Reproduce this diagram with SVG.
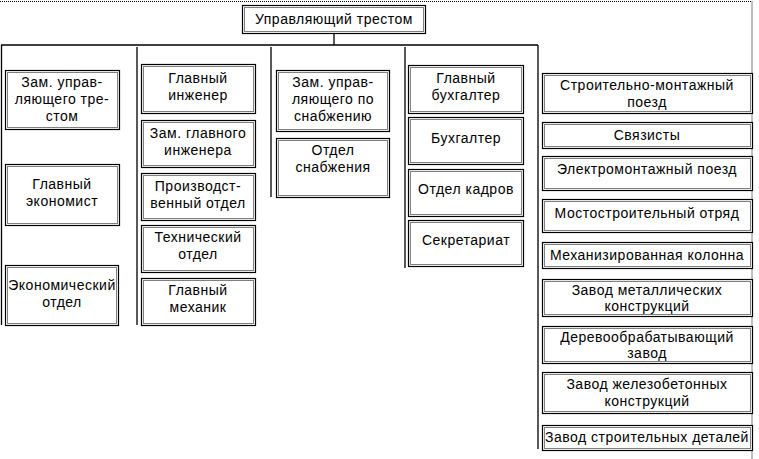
<svg xmlns="http://www.w3.org/2000/svg" width="759" height="459" viewBox="0 0 759 459">
<style>
.o{fill:#fff;stroke:#000;stroke-width:1.2}
.i{fill:none;stroke:#000;stroke-width:1;stroke-dasharray:1 1}
.l{stroke:#000;stroke-width:1.3;fill:none}
text{font-family:"Liberation Sans",Arial,sans-serif;font-size:14px;letter-spacing:0.5px;fill:#000;text-anchor:middle}
</style>
<rect width="759" height="459" fill="#fff"/>
<path d="M0 1.5H752V459" fill="none" stroke="#000" stroke-width="1" stroke-dasharray="1 1"/>
<g id="connectors" class="l">
<path d="M334 33V45M1 45H538M1.5 45V325M137 47V325M271 47V197M405 47V268M538 45V449"/>
</g>
<g id="top"><rect class="o" x="242.5" y="5.5" width="183" height="28"/><rect class="i" x="244.5" y="7.5" width="179" height="24"/><text x="334" y="24">Управляющий трестом</text></g>

<g id="c1a"><rect class="o" x="5.5" y="70.5" width="114" height="59"/><rect class="i" x="7.5" y="72.5" width="110" height="55"/><text x="62" y="87">Зам. управ-</text><text x="62" y="104">ляющего тре-</text><text x="62" y="121">стом</text></g>
<g id="c1b"><rect class="o" x="5.5" y="164.5" width="114" height="61"/><rect class="i" x="7.5" y="166.5" width="110" height="57"/><text x="62" y="189">Главный</text><text x="62" y="206">экономист</text></g>
<g id="c1c"><rect class="o" x="5.5" y="265.5" width="113" height="60"/><rect class="i" x="7.5" y="267.5" width="109" height="56"/><text x="62" y="290">Экономический</text><text x="62" y="307">отдел</text></g>

<g id="c2a"><rect class="o" x="141.5" y="64.5" width="114" height="49"/><rect class="i" x="143.5" y="66.5" width="110" height="45"/><text x="198" y="83">Главный</text><text x="198" y="100">инженер</text></g>
<g id="c2b"><rect class="o" x="141.5" y="120.5" width="114" height="47"/><rect class="i" x="143.5" y="122.5" width="110" height="43"/><text x="198" y="138">Зам. главного</text><text x="198" y="155">инженера</text></g>
<g id="c2c"><rect class="o" x="141.5" y="173.5" width="114" height="47"/><rect class="i" x="143.5" y="175.5" width="110" height="43"/><text x="198" y="191">Производст-</text><text x="198" y="208">венный отдел</text></g>
<g id="c2d"><rect class="o" x="141.5" y="225.5" width="114" height="47"/><rect class="i" x="143.5" y="227.5" width="110" height="43"/><text x="198" y="242">Технический</text><text x="198" y="259">отдел</text></g>
<g id="c2e"><rect class="o" x="141.5" y="278.5" width="114" height="47"/><rect class="i" x="143.5" y="280.5" width="110" height="43"/><text x="198" y="295">Главный</text><text x="198" y="312">механик</text></g>

<g id="c3a"><rect class="o" x="276.5" y="70.5" width="113" height="61"/><rect class="i" x="278.5" y="72.5" width="109" height="57"/><text x="333" y="87">Зам. управ-</text><text x="333" y="104">ляющего по</text><text x="333" y="121">снабжению</text></g>
<g id="c3b"><rect class="o" x="276.5" y="138.5" width="113" height="59"/><rect class="i" x="278.5" y="140.5" width="109" height="55"/><text x="333" y="155">Отдел</text><text x="333" y="172">снабжения</text></g>

<g id="c4a"><rect class="o" x="408.5" y="65.5" width="115" height="48"/><rect class="i" x="410.5" y="67.5" width="111" height="44"/><text x="466" y="83">Главный</text><text x="466" y="100">бухгалтер</text></g>
<g id="c4b"><rect class="o" x="408.5" y="117.5" width="115" height="47"/><rect class="i" x="410.5" y="119.5" width="111" height="43"/><text x="466" y="143">Бухгалтер</text></g>
<g id="c4c"><rect class="o" x="408.5" y="169.5" width="115" height="47"/><rect class="i" x="410.5" y="171.5" width="111" height="43"/><text x="466" y="194">Отдел кадров</text></g>
<g id="c4d"><rect class="o" x="408.5" y="220.5" width="115" height="46"/><rect class="i" x="410.5" y="222.5" width="111" height="42"/><text x="466" y="245">Секретариат</text></g>

<g id="r1"><rect class="o" x="542.5" y="73.5" width="210" height="40"/><rect class="i" x="544.5" y="75.5" width="206" height="36"/><text x="647" y="90">Строительно-монтажный</text><text x="647" y="107">поезд</text></g>
<g id="r2"><rect class="o" x="542.5" y="122.5" width="210" height="26"/><rect class="i" x="544.5" y="124.5" width="206" height="22"/><text x="647" y="140">Связисты</text></g>
<g id="r3"><rect class="o" x="542.5" y="156.5" width="210" height="34"/><rect class="i" x="544.5" y="158.5" width="206" height="30"/><text x="647" y="174">Электромонтажный поезд</text></g>
<g id="r4"><rect class="o" x="542.5" y="199.5" width="210" height="33"/><rect class="i" x="544.5" y="201.5" width="206" height="29"/><text x="647" y="218">Мостостроительный отряд</text></g>
<g id="r5"><rect class="o" x="542.5" y="242.5" width="210" height="26"/><rect class="i" x="544.5" y="244.5" width="206" height="22"/><text x="647" y="260">Механизированная колонна</text></g>
<g id="r6"><rect class="o" x="542.5" y="279.5" width="210" height="37"/><rect class="i" x="544.5" y="281.5" width="206" height="33"/><text x="647" y="295">Завод металлических</text><text x="647" y="311">конструкций</text></g>
<g id="r7"><rect class="o" x="542.5" y="326.5" width="210" height="37"/><rect class="i" x="544.5" y="328.5" width="206" height="33"/><text x="647" y="342">Деревообрабатывающий</text><text x="647" y="358">завод</text></g>
<g id="r8"><rect class="o" x="542.5" y="372.5" width="210" height="41"/><rect class="i" x="544.5" y="374.5" width="206" height="37"/><text x="647" y="389">Завод железобетонных</text><text x="647" y="406">конструкций</text></g>
<g id="r9"><rect class="o" x="542.5" y="425.5" width="210" height="25"/><rect class="i" x="544.5" y="427.5" width="206" height="21"/><text x="647" y="442">Завод строительных деталей</text></g>
</svg>
